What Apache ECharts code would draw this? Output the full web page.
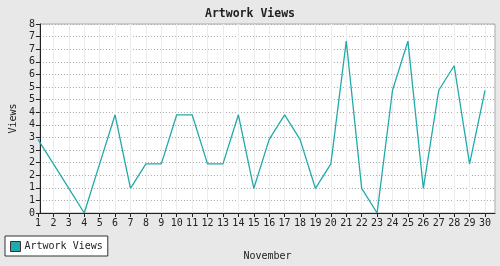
<!DOCTYPE html>
<html><head><meta charset="utf-8">
<script src="https://cdn.jsdelivr.net/npm/echarts@6/dist/echarts.min.js"></script>
<style>html,body{margin:0;padding:0;background:#e8e8e8}#c{width:500px;height:266px}</style>
</head><body><div id="c"></div>
<script>
const days = ['1','2','3','4','5','6','7','8','9','10','11','12','13','14','15','16','17','18','19','20','21','22','23','24','25','26','27','28','29','30'];
const views = [3,2,1,0,2,4,1,2,2,4,4,2,2,4,1,3,4,3,1,2,7,1,0,5,7,1,5,6,2,5];
const yMax = 7.7;
const ySteps = 15;

const FONT = 'DejaVu Sans Mono';
const chart = echarts.init(document.getElementById('c'), null, {renderer:'canvas'});
chart.setOption({
  backgroundColor:'#e8e8e8',
  animation:false,
  title:{text:'Artwork Views', left:'center', top:3,
    textStyle:{fontFamily:FONT, fontSize:11.5, fontWeight:'bold', color:'#222'}},
  legend:{left:5, top:236, padding:[5,5,4,5], backgroundColor:'#fff', borderColor:'#333', borderWidth:1,
    itemWidth:10, itemHeight:10, itemGap:5,
    textStyle:{fontFamily:FONT, fontSize:10, color:'#222', padding:[0,0,0,-1]},
    data:[{name:'Artwork Views', icon:'rect', itemStyle:{color:'#22aaaa', borderColor:'#333', borderWidth:1}}]},
  grid:[
    {left:29, right:5, top:24, bottom:53, show:true, backgroundColor:'#fff', borderColor:'#aaa', borderWidth:1},
    {left:38, right:15, top:24, bottom:53}
  ],
  xAxis:[
    {gridIndex:0, type:'value', min:0, max:1,
      name:'November', nameLocation:'middle', nameGap:38,
      nameTextStyle:{fontFamily:FONT, fontSize:10, color:'#222'},
      axisLine:{lineStyle:{color:'#222', width:1}}, axisTick:{show:false}, axisLabel:{show:false}, splitLine:{show:false}},
    {gridIndex:1, type:'category', data:days, boundaryGap:false,
      axisLine:{show:false},
      axisTick:{show:true, length:4, alignWithLabel:true, lineStyle:{color:'#222'}},
      axisLabel:{fontFamily:FONT, fontSize:10, color:'#222', margin:5, interval:0},
      splitLine:{show:true, lineStyle:{color:'#ececec', width:1}}}
  ],
  yAxis:[
    {gridIndex:0, type:'value', min:0, max:yMax, interval:yMax/ySteps,
      name:'Views', nameLocation:'middle', nameGap:18, nameRotate:90,
      nameTextStyle:{fontFamily:FONT, fontSize:10, color:'#222'},
      axisLine:{show:true, lineStyle:{color:'#222', width:1}},
      axisTick:{show:true, length:4, lineStyle:{color:'#222'}},
      axisLabel:{fontFamily:FONT, fontSize:10, color:'#222', margin:5, formatter:v=>String(Math.round(v))},
      splitLine:{show:true, lineStyle:{color:'#a8a8a8', width:1, type:[1,2]}}},
    {gridIndex:1, type:'value', min:0, max:yMax, show:false, splitLine:{show:false}}
  ],
  series:[{name:'Artwork Views', type:'line', xAxisIndex:1, yAxisIndex:1, data:views,
    symbol:'none', lineStyle:{color:'#22aaaa', width:1.3}, itemStyle:{color:'#22aaaa'}}]
});
</script></body></html>
